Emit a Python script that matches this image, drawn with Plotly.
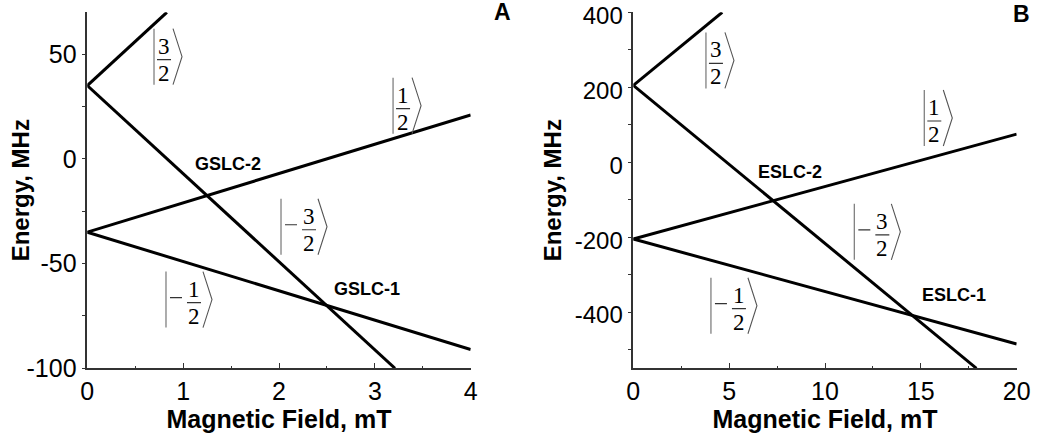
import plotly.graph_objects as go

# ---------------- data ----------------
# Panel A: ground state, Panel B: excited state
fieldA_32 = [0, 0.83];  energyA_32 = [35, 70]
fieldA_12 = [0, 4];     energyA_12 = [-35, 21]
fieldA_m12 = [0, 4];    energyA_m12 = [-35, -91]
fieldA_m32 = [0, 3.21]; energyA_m32 = [35, -100]

fieldB_32 = [0, 4.64];  energyB_32 = [205, 400]
fieldB_12 = [0, 20];    energyB_12 = [-205, 75]
fieldB_m12 = [0, 20];   energyB_m12 = [-205, -485]
fieldB_m32 = [0, 17.9]; energyB_m32 = [205, -550]

# axis ticks
xticksA = [0, 1, 2, 3, 4]
yticksA = [50, 0, -50, -100]
yticklabelsA = ["50", "0", "-50", "-100"]
xticksB = [0, 5, 10, 15, 20]
yticksB = [400, 200, 0, -200, -400]
yticklabelsB = ["400", "200", "0", "-200", "-400"]

# ket labels: (numerator, negative?, field, energy) -- position of the left bar
ketsA = [("3", False, 0.696, 48.8), ("1", False, 3.19, 25.4),
         ("3", True, 2.021, -32.4), ("1", True, 0.821, -67.2)]
ketsB = [("3", False, 3.79, 271.5), ("1", False, 15.18, 118.0),
         ("3", True, 11.53, -185.9), ("1", True, 4.05, -383.0)]

crossA = [("GSLC-2", 1.468, -2.5), ("GSLC-1", 2.919, -62.0)]
crossB = [("ESLC-2", 8.15, -27.0), ("ESLC-1", 16.73, -354.0)]

panel_letters = ["A", "B"]
x_title = "Magnetic Field, mT"
y_title = "Energy, MHz"

# ---------------- figure ----------------
SANS = "Liberation Sans, Arial, sans-serif"
SERIF = "Liberation Serif, Times New Roman, serif"
LINE = dict(color="black", width=3)

fig = go.Figure()
for xs, ys in [(fieldA_32, energyA_32), (fieldA_12, energyA_12),
               (fieldA_m12, energyA_m12), (fieldA_m32, energyA_m32)]:
    fig.add_trace(go.Scatter(x=xs, y=ys, mode="lines", line=LINE,
                             xaxis="x", yaxis="y", showlegend=False))
for xs, ys in [(fieldB_32, energyB_32), (fieldB_12, energyB_12),
               (fieldB_m12, energyB_m12), (fieldB_m32, energyB_m32)]:
    fig.add_trace(go.Scatter(x=xs, y=ys, mode="lines", line=LINE,
                             xaxis="x2", yaxis="y2", showlegend=False))


def add_ket(xr, yr, num, neg, bx, cy):
    common = dict(xref=xr, yref=yr, xsizemode="pixel", ysizemode="pixel",
                  xanchor=bx, yanchor=cy)
    # left vertical bar
    fig.add_shape(type="line", x0=0, x1=0, y0=-28, y1=28,
                  line=dict(color="#808080", width=1.3), **common)
    fc = 28 if neg else 10
    if neg:
        fig.add_shape(type="line", x0=4, x1=16, y0=2, y1=2,
                      line=dict(color="#333", width=1.2), **common)
    # fraction line
    fig.add_shape(type="line", x0=fc - 7, x1=fc + 7, y0=-3, y1=-3,
                  line=dict(color="#333", width=1.2), **common)
    # right angle bracket
    fig.add_shape(type="path",
                  path=f"M {fc+9},28 L {fc+18},0 L {fc+9},-28",
                  line=dict(color="#555", width=1.1), **common)
    for txt, dy in [(num, 10.5), ("2", -16.5)]:
        fig.add_annotation(x=bx, y=cy, xref=xr, yref=yr, text=txt,
                           showarrow=False, xshift=fc, yshift=dy,
                           xanchor="center", yanchor="middle", borderpad=0,
                           font=dict(family=SERIF, size=23, color="black"))


for num, neg, bx, cy in ketsA:
    add_ket("x", "y", num, neg, bx, cy)
for num, neg, bx, cy in ketsB:
    add_ket("x2", "y2", num, neg, bx, cy)

for txt, x, y in crossA:
    fig.add_annotation(x=x, y=y, xref="x", yref="y", text=f"<b>{txt}</b>",
                       showarrow=False, font=dict(family=SANS, size=18, color="black"))
for txt, x, y in crossB:
    fig.add_annotation(x=x, y=y, xref="x2", yref="y2", text=f"<b>{txt}</b>",
                       showarrow=False, font=dict(family=SANS, size=18, color="black"))

for letter, px, py in zip(panel_letters, [0.4827, 0.982], [0.974, 0.969]):
    fig.add_annotation(x=px, y=py, xref="paper", yref="paper", text=f"<b>{letter}</b>",
                       showarrow=False, xanchor="center", yanchor="middle",
                       font=dict(family=SANS, size=23, color="black"))

# y-axis titles placed as rotated text next to each panel
yd = [1 - 368.3 / 445, 1 - 12.3 / 445]
for px in [20 / 1040, 552 / 1040]:
    fig.add_annotation(x=px, y=(yd[0] + yd[1]) / 2, xref="paper", yref="paper",
                       text=f"<b>{y_title}</b>", textangle=-90, showarrow=False,
                       xanchor="center", yanchor="middle",
                       font=dict(family=SANS, size=24, color="black"))

AX = dict(showline=True, linecolor="#333", linewidth=1.5, showgrid=False,
          zeroline=False, tickcolor="#333", tickwidth=1.3, automargin=False,
          ticklabeloverflow="allow",
          tickfont=dict(family=SANS, size=25, color="black"))
XAX = dict(AX, ticks="inside", ticklen=6, tickmode="array",
           title=dict(text=f"<b>{x_title}</b>", standoff=1,
                      font=dict(family=SANS, size=25, color="black")))
YAX = dict(AX, ticks="outside", ticklen=4, tickmode="array")

fig.update_layout(
    width=1040, height=445,
    margin=dict(l=0, r=0, t=0, b=0),
    paper_bgcolor="white", plot_bgcolor="white",
    xaxis=dict(XAX, domain=[87.3 / 1040, 470.7 / 1040], range=[0, 4],
               tickvals=xticksA,
               minor=dict(ticks="inside", ticklen=3, dtick=0.5, tickcolor="#333"),
               anchor="y"),
    yaxis=dict(YAX, domain=yd, range=[-100, 70],
               tickvals=yticksA, ticktext=yticklabelsA,
               minor=dict(ticks="outside", ticklen=4, dtick=25, tickcolor="#333"),
               anchor="x"),
    xaxis2=dict(XAX, domain=[633.3 / 1040, 1016.7 / 1040], range=[0, 20],
                tickvals=xticksB,
                minor=dict(ticks="inside", ticklen=3, dtick=2.5, tickcolor="#333"),
                anchor="y2"),
    yaxis2=dict(YAX, domain=yd, range=[-550, 400],
                tickvals=yticksB, ticktext=yticklabelsB, ticklabelshift=3,
                tickfont=dict(family=SANS, size=24, color="black"),
                minor=dict(ticks="outside", ticklen=4, dtick=100, tickcolor="#333"),
                anchor="x2"),
)

fig.write_html("out.html")
